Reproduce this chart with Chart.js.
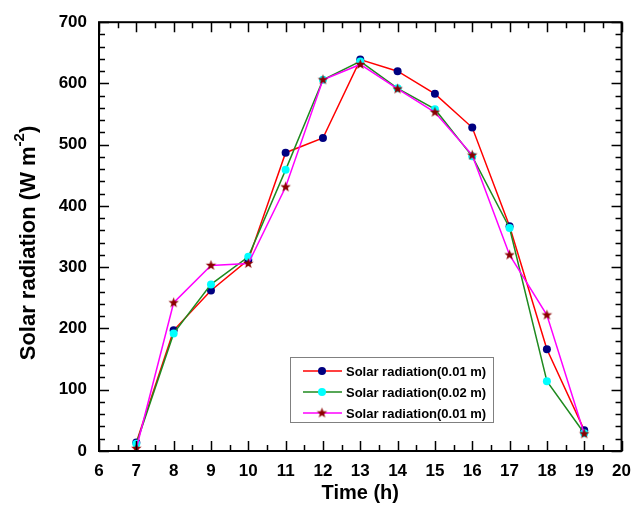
<!DOCTYPE html>
<html>
<head>
<meta charset="utf-8">
<script src="https://cdn.jsdelivr.net/npm/chart.js@4/dist/chart.umd.min.js"></script>
<style>
  html, body { margin: 0; padding: 0; background: #fff; }
  #wrap { width: 641px; height: 505px; }
</style>
</head>
<body>
<div id="wrap"><canvas id="solarChart" width="641" height="505"></canvas></div>
<script>
const hours = [7, 8, 9, 10, 11, 12, 13, 14, 15, 16, 17, 18, 19];
const rad001 = [14, 197, 262, 312, 487, 511, 639, 620, 583, 528, 367, 166, 34];
const rad002 = [12, 192, 272, 317, 459, 606, 636, 592, 558, 481, 364, 114, 29];
const rad001b = [4, 242, 303, 306, 431, 606, 631, 591, 553, 483, 320, 222, 28];
const seriesLabels = ['Solar radiation(0.01 m)', 'Solar radiation(0.02 m)', 'Solar radiation(0.01 m)'];

const FONT = '"Liberation Sans", Arial, sans-serif';

// filled five-point star used as marker
function makeStar(color, r) {
    const c = document.createElement('canvas');
    const s = Math.ceil(r * 2 + 2);
    c.width = s; c.height = s;
    const g = c.getContext('2d');
    g.translate(s / 2, s / 2);
    g.beginPath();
    for (let i = 0; i < 10; i++) {
        const rr = i % 2 === 0 ? r : r * 0.42;
        const a = -Math.PI / 2 + i * Math.PI / 5;
        g.lineTo(rr * Math.cos(a), rr * Math.sin(a));
    }
    g.closePath();
    g.fillStyle = color;
    g.fill();
    return c;
}
const starMarker = makeStar('#8b0000', 5.5);

const toXY = vals => vals.map((v, i) => ({ x: hours[i], y: v }));

// box frame, inward ticks on all four sides, axis titles and the legend box
const frameTicks = {
    id: 'frameTicks',
    afterDraw(chart) {
        const { ctx, chartArea: a, scales: { x, y } } = chart;
        ctx.save();
        ctx.strokeStyle = '#000';
        ctx.lineWidth = 1.5;
        ctx.beginPath();
        for (let v = 6; v <= 20.001; v += 0.5) {
            const px = Math.round(x.getPixelForValue(v)) + 0.5;
            const len = Math.abs(v - Math.round(v)) < 0.01 ? 10 : 6;
            ctx.moveTo(px, a.bottom); ctx.lineTo(px, a.bottom - len);
            ctx.moveTo(px, a.top); ctx.lineTo(px, a.top + len);
        }
        for (let v = 0; v <= 700; v += 20) {
            const py = Math.round(y.getPixelForValue(v)) + 0.5;
            const len = v % 100 === 0 ? 10 : 6;
            ctx.moveTo(a.left, py); ctx.lineTo(a.left + len, py);
            ctx.moveTo(a.right, py); ctx.lineTo(a.right - len, py);
        }
        ctx.stroke();
        ctx.lineWidth = 2;
        ctx.strokeRect(a.left, a.top, a.right - a.left, a.bottom - a.top);

        // y axis title with superscript
        ctx.fillStyle = '#000';
        ctx.translate(29, 243);
        ctx.rotate(-Math.PI / 2);
        const main = 'Solar radiation (W m';
        const sup = '-2';
        const big = 'bold 22px ' + FONT, small = 'bold 15px ' + FONT;
        ctx.font = big;
        const w1 = ctx.measureText(main).width, w3 = ctx.measureText(')').width;
        ctx.font = small;
        const w2 = ctx.measureText(sup).width;
        let sx = -(w1 + w2 + w3) / 2;
        ctx.textBaseline = 'middle';
        ctx.textAlign = 'left';
        ctx.font = big; ctx.fillText(main, sx, 0); sx += w1;
        ctx.font = small; ctx.fillText(sup, sx, -9); sx += w2;
        ctx.font = big; ctx.fillText(')', sx, 0);
        ctx.restore();

        // x axis title
        ctx.save();
        ctx.font = 'bold 20px ' + FONT;
        ctx.textAlign = 'center';
        ctx.textBaseline = 'middle';
        ctx.fillStyle = '#000';
        ctx.fillText('Time (h)', (a.left + a.right) / 2, 493);

        // legend
        ctx.strokeStyle = '#808080';
        ctx.lineWidth = 1;
        ctx.strokeRect(290.5, 357.5, 203, 65);
        ctx.font = 'bold 13px ' + FONT;
        ctx.textAlign = 'left';
        chart.data.datasets.forEach((ds, i) => {
            const ly = 371 + i * 21;
            ctx.strokeStyle = ds.borderColor;
            ctx.lineWidth = 1.5;
            ctx.beginPath(); ctx.moveTo(303, ly); ctx.lineTo(342, ly); ctx.stroke();
            if (ds.pointStyle === 'circle') {
                ctx.fillStyle = ds.pointBackgroundColor;
                ctx.beginPath(); ctx.arc(322, ly, 4, 0, Math.PI * 2); ctx.fill();
            } else {
                ctx.drawImage(ds.pointStyle, 322 - ds.pointStyle.width / 2, ly - ds.pointStyle.height / 2);
            }
            ctx.fillStyle = '#000';
            ctx.fillText(ds.label, 346, ly + 1);
        });
        ctx.restore();
    }
};

const ctx = document.getElementById('solarChart').getContext('2d');
const solarChart = new Chart(ctx, {
    type: 'line',
    data: {
        datasets: [{
            label: seriesLabels[0],
            data: toXY(rad001),
            borderColor: '#ff0000',
            borderWidth: 1.5,
            pointStyle: 'circle',
            pointRadius: 4,
            pointBackgroundColor: '#000080',
            pointBorderWidth: 0,
            order: 2
        }, {
            label: seriesLabels[1],
            data: toXY(rad002),
            borderColor: '#1f8a1f',
            borderWidth: 1.5,
            pointStyle: 'circle',
            pointRadius: 4,
            pointBackgroundColor: '#00ffff',
            pointBorderWidth: 0,
            order: 1
        }, {
            label: seriesLabels[2],
            data: toXY(rad001b),
            borderColor: '#ff00ff',
            borderWidth: 1.5,
            pointStyle: starMarker,
            order: 0
        }]
    },
    options: {
        responsive: false,
        animation: false,
        layout: { padding: { top: 21, right: 9, left: 0, bottom: 0 } },
        plugins: {
            legend: { display: false },
            tooltip: { enabled: false }
        },
        scales: {
            x: {
                type: 'linear',
                min: 6,
                max: 20,
                afterFit: s => { s.height = 54; },
                grid: { display: false, drawTicks: false },
                border: { display: false },
                ticks: {
                    stepSize: 1,
                    padding: 10,
                    color: '#000',
                    maxRotation: 0,
                    font: { family: FONT, size: 17, weight: 'bold' }
                }
            },
            y: {
                min: 0,
                max: 700,
                afterFit: s => { s.width = 99; },
                grid: { display: false, drawTicks: false },
                border: { display: false },
                ticks: {
                    stepSize: 100,
                    padding: 12,
                    color: '#000',
                    font: { family: FONT, size: 17, weight: 'bold' }
                }
            }
        }
    },
    plugins: [frameTicks]
});
</script>
</body>
</html>
